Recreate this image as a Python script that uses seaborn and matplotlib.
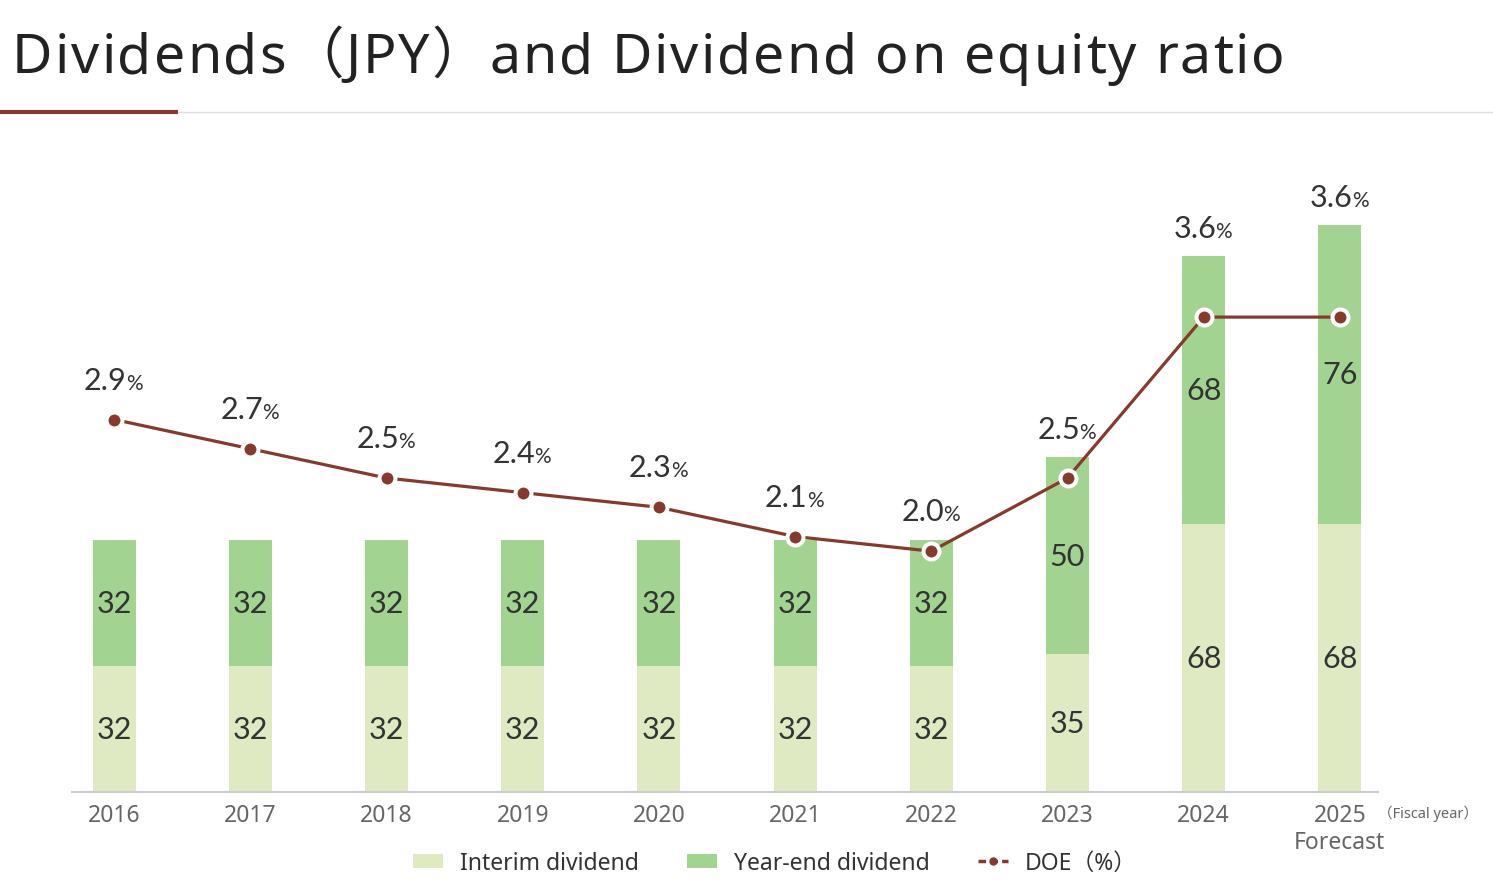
import numpy as np
import pandas as pd
import matplotlib
matplotlib.use("Agg")
from matplotlib import pyplot as plt
from matplotlib.patches import Patch
from matplotlib.lines import Line2D
import seaborn as sns

years = ["2016", "2017", "2018", "2019", "2020", "2021", "2022", "2023", "2024", "2025"]
interim = [32, 32, 32, 32, 32, 32, 32, 35, 68, 68]
year_end = [32, 32, 32, 32, 32, 32, 32, 50, 68, 76]
doe = [2.9, 2.7, 2.5, 2.4, 2.3, 2.1, 2.0, 2.5, 3.6, 3.6]

title = "Dividends（JPY）and Dividend on equity ratio"
legend_labels = ["Interim dividend", "Year-end dividend", "DOE（%）"]

c_interim = "#dfeac3"
c_yearend = "#a3d391"
c_line = "#873a2c"
c_text = "#333333"
c_tick = "#666666"

sns.set_theme(style="white")
plt.rcParams["font.family"] = ["Noto Sans", "Noto Sans CJK JP", "DejaVu Sans"]

W, H = 1493, 887
fig = plt.figure(figsize=(W / 100, H / 100), dpi=100)
ax = fig.add_axes([72 / W, 94 / H, (1378 - 72) / W, 643 / H])

df = pd.DataFrame({"year": years, "interim": interim, "year_end": year_end})
df["total"] = df["interim"] + df["year_end"]

# stacked bars: full height in year-end colour, interim drawn on top
sns.barplot(data=df, x="year", y="total", color=c_yearend, saturation=1, width=0.316, ax=ax)
sns.barplot(data=df, x="year", y="interim", color=c_interim, saturation=1, width=0.316, ax=ax)
for p in ax.patches:
    p.set_edgecolor("none")

ax.set_xlim(-0.31, 9.28)
ax.set_ylim(0, 163.2)
ax.set_xlabel("")
ax.set_ylabel("")
ax.set_yticks([])
for s in ["top", "right", "left"]:
    ax.spines[s].set_visible(False)
ax.spines["bottom"].set_color("#cccccc")
ax.spines["bottom"].set_linewidth(1.5)
labels = years[:-1] + [years[-1] + "\nForecast"]
ax.set_xticks(range(len(years)))
ax.set_xticklabels(labels, fontsize=16.5, color=c_tick, linespacing=1.15)
ax.tick_params(axis="x", length=0, pad=8)

# value labels inside segments
for i in range(len(years)):
    ax.text(i, interim[i] / 2, str(interim[i]), ha="center", va="center",
            fontsize=22, color=c_text, family="Lato")
    ax.text(i, interim[i] + year_end[i] / 2, str(year_end[i]), ha="center", va="center",
            fontsize=22, color=c_text, family="Lato")

# DOE line
ax2 = ax.twinx()
sns.lineplot(x=np.arange(len(years)), y=doe, ax=ax2, color=c_line, linewidth=2.3,
             marker="o", markersize=11.5, markerfacecolor=c_line,
             markeredgecolor="white", markeredgewidth=2.9)
ax2.set_ylim(0.354, 4.749)
ax2.set_yticks([])
ax2.set_ylabel("")
for s in ax2.spines.values():
    s.set_visible(False)

fig.canvas.draw()
renderer = fig.canvas.get_renderer()
inv2 = ax2.transData.inverted()
for i in range(len(years)):
    pt = ax2.transData.transform((i, doe[i]))[1]
    bar = ax.transData.transform((i, interim[i] + year_end[i]))[1]
    yd = max(pt + 42, bar + 30) - 11  # baseline below label centre
    yv = inv2.transform((0, yd))[1]
    ax2.annotate(f"{doe[i]:.1f}", (i, yv), xytext=(9, 0), textcoords="offset points",
                 ha="right", va="baseline", fontsize=22, color=c_text, family="Lato")
    ax2.annotate("%", (i, yv), xytext=(8.5, 0), textcoords="offset points",
                 ha="left", va="baseline", fontsize=15, color=c_text, family="Lato")

fig.text(1378 / W, 1 - 814 / H, "（Fiscal year）",
         ha="left", va="center", fontsize=10.5, color=c_tick)

# title with a little letter spacing
tracking = 2.0
probe = fig.text(0, 0, "", fontsize=40)
def width_px(s):
    probe.set_text(s + "I")
    w = probe.get_window_extent(renderer).width
    probe.set_text("I")
    return w - probe.get_window_extent(renderer).width
for k, ch in enumerate(title):
    x = 12 + width_px(title[:k]) + k * tracking if k else 12
    fig.text(x / W, 1 - 73 / H, ch, ha="left", va="baseline", fontsize=40, color="#222222")
probe.remove()

fig.add_artist(Line2D([0, 1], [1 - 113 / H] * 2, transform=fig.transFigure,
                      color="#dddddd", linewidth=1))
fig.add_artist(Line2D([0, 178 / W], [1 - 113 / H] * 2, transform=fig.transFigure,
                      color=c_line, linewidth=3, solid_capstyle="butt"))

handles = [
    Patch(facecolor=c_interim, edgecolor="none"),
    Patch(facecolor=c_yearend, edgecolor="none"),
    Line2D([0], [0], color=c_line, linewidth=2.5, linestyle=(0, (2.2, 1.2)),
           marker="o", markersize=5, markeredgecolor=c_line),
]
fig.legend(handles, legend_labels,
           loc="center", bbox_to_anchor=(775 / W, 1 - 864 / H), ncol=3,
           frameon=False, fontsize=16.5, labelcolor=c_text,
           handlelength=1.3, handleheight=0.6, handletextpad=0.75, columnspacing=2.1)

fig.savefig("out.png", dpi=100)
